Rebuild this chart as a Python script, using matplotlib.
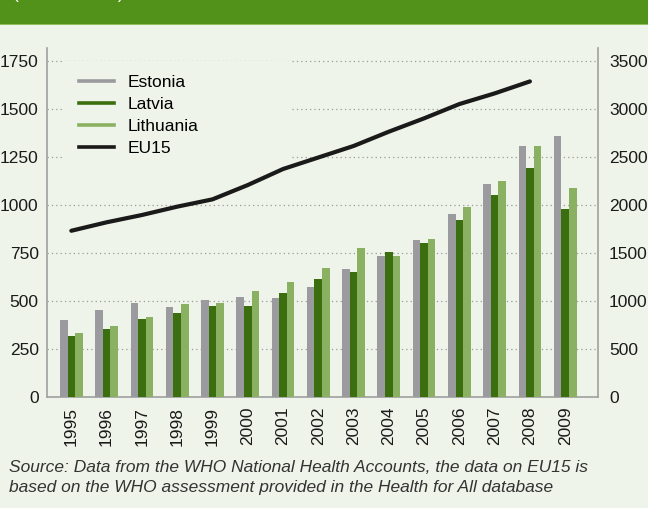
import numpy as np
import matplotlib.pyplot as plt
from matplotlib.lines import Line2D
from matplotlib.patches import Rectangle

plt.rcParams['font.family'] = ['Liberation Sans', 'DejaVu Sans']

# data
years = ['1995', '1996', '1997', '1998', '1999', '2000', '2001', '2002',
         '2003', '2004', '2005', '2006', '2007', '2008', '2009']
estonia = [401, 453, 491, 469, 505, 521, 514, 574, 665, 733, 816, 951, 1111, 1307, 1360]
latvia = [318, 354, 408, 439, 476, 476, 543, 613, 649, 753, 800, 922, 1050, 1193, 981]
lithuania = [333, 370, 417, 484, 491, 552, 597, 672, 778, 733, 823, 990, 1125, 1307, 1087]
eu15 = [1732, 1820, 1896, 1983, 2059, 2208, 2375, 2495, 2615, 2764, 2903, 3052, 3163, 3288]

bg = '#eef4e9'
c_est = '#9b9a9f'
c_lat = '#3a6e0f'
c_lit = '#8ab162'
fs = 12.5

fig = plt.figure(figsize=(6.48, 5.08), dpi=100, facecolor=bg)

# green header band (title sits above the crop, only the brackets show)
fig.patches.append(Rectangle((0, 1 - 23.5/508), 1, 23.5/508, transform=fig.transFigure,
                             facecolor='#52921a', edgecolor='none'))
fig.patches.append(Rectangle((0, 1 - 25/508), 1, 1.5/508, transform=fig.transFigure,
                             facecolor='#8dc05a', edgecolor='none'))
fig.text(13/648, 1 + 1/508, '(in US dollars)', color='white', fontsize=fs,
         ha='left', va='baseline')

ax = fig.add_axes([47/648, 1 - 397/508, 551/648, 349/508])
ax.set_facecolor(bg)
x = np.arange(len(years))
w = 0.215
ax.bar(x - w, estonia, w, color=c_est, zorder=3)
ax.bar(x, latvia, w, color=c_lat, zorder=3)
ax.bar(x + w, lithuania, w, color=c_lit, zorder=3)

ax.set_xlim(-0.69, 14.93)
ax.set_ylim(0, 1818)
ax.set_yticks([0, 250, 500, 750, 1000, 1250, 1500, 1750])
ax.set_xticks(x)
ax.set_xticklabels(years, rotation=90)
ax.yaxis.grid(True, color='#9a9a9a', linestyle=(0, (1, 2.5)), linewidth=0.9)
ax.set_axisbelow(True)
for s in ['top', 'right']:
    ax.spines[s].set_visible(False)
for s in ['left', 'bottom']:
    ax.spines[s].set_color('#a0a0a0')
    ax.spines[s].set_linewidth(1.2)
ax.tick_params(axis='y', length=0, pad=6, labelsize=fs, colors='#1a1a1a')
ax.tick_params(axis='x', length=0, pad=7, labelsize=fs, colors='#1a1a1a')

ax2 = ax.twinx()
ax2.plot(x[:len(eu15)], eu15, color='#1a1a1a', linewidth=3, solid_capstyle='round')
ax2.set_ylim(0, 3636)
ax2.set_yticks([0, 500, 1000, 1500, 2000, 2500, 3000, 3500])
for s in ['top', 'left', 'bottom']:
    ax2.spines[s].set_visible(False)
ax2.spines['right'].set_color('#a0a0a0')
ax2.spines['right'].set_linewidth(1.2)
ax2.tick_params(axis='y', length=0, pad=8, labelsize=fs, colors='#1a1a1a')

# legend on the bar axes so the EU15 line stays on top of its box
handles = [Line2D([], [], color=c_est, lw=2.6),
           Line2D([], [], color=c_lat, lw=2.6),
           Line2D([], [], color=c_lit, lw=2.6),
           Line2D([], [], color='#1a1a1a', lw=2.6)]
leg = ax.legend(handles, ['Estonia', 'Latvia', 'Lithuania', 'EU15'],
                loc='upper left', bbox_to_anchor=(0.033, 0.963, 0.408, 0.0),
                mode='expand', borderaxespad=0, fontsize=fs, frameon=True,
                fancybox=False, handlelength=2.0, handletextpad=0.8,
                labelspacing=0.4, borderpad=0.8)
leg.get_frame().set_facecolor(bg)
leg.get_frame().set_edgecolor('none')
leg.get_frame().set_alpha(1)
leg.set_zorder(5)

fig.text(9/648, 1 - 460/508,
         'Source: Data from the WHO National Health Accounts, the data on EU15 is\n'
         'based on the WHO assessment provided in the Health for All database',
         fontsize=fs, style='italic', color='#333333', ha='left', va='top',
         linespacing=1.45)

fig.savefig('out.png', dpi=100, facecolor=bg)
